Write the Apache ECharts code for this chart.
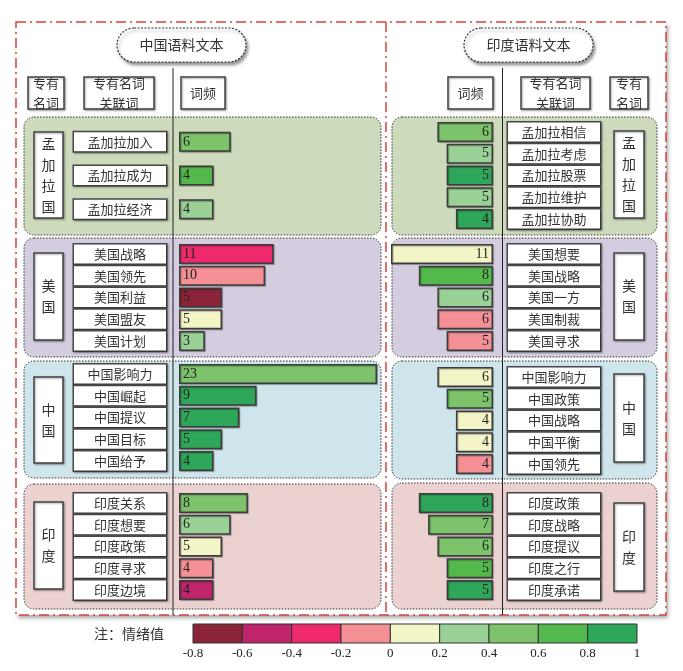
<!DOCTYPE html>
<html>
<head>
<meta charset="utf-8">
<title>中国语料文本 / 印度语料文本 词频</title>
<script src="https://cdn.jsdelivr.net/npm/echarts@6/dist/echarts.min.js"></script>
<style>
    html, body { margin: 0; padding: 0; background: #fff; }
    #chart { width: 683px; height: 671px; }
</style>
</head>
<body>
<div id="chart"></div>
<script>
// Data
// ------------------------------

var groupNames = ['孟加拉国', '美国', '中国', '印度'];

// 中国语料文本
var cnBdWords = ['孟加拉加入', '孟加拉成为', '孟加拉经济'];
var cnBdFreq = [6, 4, 4];
var cnBdMood = [0.5, 0.7, 0.3];
var cnUsWords = ['美国战略', '美国领先', '美国利益', '美国盟友', '美国计划'];
var cnUsFreq = [11, 10, 5, 5, 3];
var cnUsMood = [-0.3, -0.1, -0.7, 0.1, 0.3];
var cnCnWords = ['中国影响力', '中国崛起', '中国提议', '中国目标', '中国给予'];
var cnCnFreq = [23, 9, 7, 5, 4];
var cnCnMood = [0.5, 0.9, 0.9, 0.9, 0.9];
var cnInWords = ['印度关系', '印度想要', '印度政策', '印度寻求', '印度边境'];
var cnInFreq = [8, 6, 5, 4, 4];
var cnInMood = [0.5, 0.3, 0.1, -0.1, -0.5];

// 印度语料文本
var inBdWords = ['孟加拉相信', '孟加拉考虑', '孟加拉股票', '孟加拉维护', '孟加拉协助'];
var inBdFreq = [6, 5, 5, 5, 4];
var inBdMood = [0.5, 0.3, 0.9, 0.3, 0.9];
var inUsWords = ['美国想要', '美国战略', '美国一方', '美国制裁', '美国寻求'];
var inUsFreq = [11, 8, 6, 6, 5];
var inUsMood = [0.1, 0.7, 0.3, -0.1, -0.1];
var inCnWords = ['中国影响力', '中国政策', '中国战略', '中国平衡', '中国领先'];
var inCnFreq = [6, 5, 4, 4, 4];
var inCnMood = [0.1, 0.5, 0.1, 0.1, -0.1];
var inInWords = ['印度政策', '印度战略', '印度提议', '印度之行', '印度承诺'];
var inInFreq = [8, 7, 6, 5, 5];
var inInMood = [0.9, 0.5, 0.5, 0.7, 0.9];

// 情绪值 legend
var moodBreaks = [-0.8, -0.6, -0.4, -0.2, 0, 0.2, 0.4, 0.6, 0.8, 1];
var moodColors = ['#8c2439', '#c0246a', '#ee2a6c', '#f59196', '#f4f5c7', '#9ad196', '#7cc36b', '#53b94c', '#2fa75a'];


// Layout
// ------------------------------

var CJK = '"Noto Sans CJK SC", sans-serif';
var SERIF = '"Liberation Serif", "DejaVu Serif", serif';

var leftSets = [
    {words: cnBdWords, freq: cnBdFreq, mood: cnBdMood, top: 125, height: 101},
    {words: cnUsWords, freq: cnUsFreq, mood: cnUsMood, top: 243, height: 109},
    {words: cnCnWords, freq: cnCnFreq, mood: cnCnMood, top: 363, height: 109},
    {words: cnInWords, freq: cnInFreq, mood: cnInMood, top: 492, height: 109}
];
var rightSets = [
    {words: inBdWords, freq: inBdFreq, mood: inBdMood, top: 121, height: 109},
    {words: inUsWords, freq: inUsFreq, mood: inUsMood, top: 243, height: 109},
    {words: inCnWords, freq: inCnFreq, mood: inCnMood, top: 366, height: 109},
    {words: inInWords, freq: inInFreq, mood: inInMood, top: 492, height: 109}
];

var panelColors = ['#cddabb', '#d4cde0', '#cee5eb', '#ebd1d0'];
var leftPanels = [[117, 118], [238, 119], [361, 117], [484, 125]];
var rightPanels = [[117, 118], [238, 119], [361, 118], [483, 126]];
var leftNameBoxes = [[132, 86], [253, 87], [377, 86], [502, 87]];
var rightNameBoxes = [[131, 87], [253, 87], [374, 88], [503, 88]];

var grids = [], xAxes = [], yAxes = [], series = [];

function labelBox(side) {
    return {
        show: true,
        interval: 0,
        hideOverlap: false,
        margin: side === 'left' ? 13 : 15,
        formatter: function (v) { return '{w|' + v + '}'; },
        rich: {
            w: {width: 90, height: 17, align: 'center', fontFamily: CJK, fontSize: 13, color: '#333'}
        },
        backgroundColor: '#fff',
        borderColor: '#4a4a4a',
        borderWidth: 1.5,
        padding: [1, 1],
        shadowColor: 'rgba(0,0,0,0.35)',
        shadowBlur: 2,
        shadowOffsetX: 1,
        shadowOffsetY: 1
    };
}

function addSide(sets, side) {
    sets.forEach(function (s) {
        var idx = grids.length;
        if (side === 'left') {
            grids.push({left: 179, width: 198, top: s.top, height: s.height});
        } else {
            grids.push({left: 391, width: 102, top: s.top, height: s.height});
        }
        xAxes.push({
            gridIndex: idx, type: 'value', show: false,
            min: 0, max: side === 'left' ? 23 : 11,
            inverse: side === 'right'
        });
        yAxes.push({
            gridIndex: idx, type: 'category', inverse: true, z: 6,
            position: side, data: s.words,
            axisLine: {show: false, onZero: false}, axisTick: {show: false}, splitLine: {show: false},
            axisLabel: labelBox(side)
        });
        series.push({
            type: 'bar', xAxisIndex: idx, yAxisIndex: idx, z: 5,
            barWidth: 20,
            encode: {x: 0, y: 1},
            data: s.freq.map(function (f, j) { return [f, s.words[j], s.mood[j]]; }),
            itemStyle: {
                borderColor: '#3c3c3c', borderWidth: 1.5,
                shadowColor: 'rgba(0,0,0,0.3)', shadowBlur: 1, shadowOffsetX: 1, shadowOffsetY: 1
            },
            label: {
                show: true,
                position: side === 'left' ? 'insideLeft' : 'insideRight',
                distance: 4,
                formatter: function (p) { return p.value[0]; },
                fontFamily: SERIF, fontSize: 14, color: '#222'
            }
        });
    });
}

addSide(leftSets, 'left');
addSide(rightSets, 'right');

// legend grid
var legendGrid = grids.length;
grids.push({left: 193, width: 444, top: 624, height: 19});
xAxes.push({
    gridIndex: legendGrid, type: 'value', min: -0.8, max: 1, interval: 0.2,
    axisLine: {show: false}, axisTick: {show: false}, splitLine: {show: false},
    axisLabel: {fontFamily: SERIF, fontSize: 13, color: '#222', margin: 4}
});
yAxes.push({gridIndex: legendGrid, type: 'value', min: 0, max: 1, show: false});
series.push({
    type: 'custom', xAxisIndex: legendGrid, yAxisIndex: legendGrid, z: 5,
    data: moodColors.map(function (c, i) { return [moodBreaks[i], moodBreaks[i + 1], i]; }),
    renderItem: function (params, api) {
        var a = api.coord([api.value(0), 1]);
        var b = api.coord([api.value(1), 0]);
        return {
            type: 'rect',
            shape: {x: a[0], y: a[1], width: b[0] - a[0], height: b[1] - a[1]},
            style: {fill: moodColors[api.value(2)], stroke: '#333', lineWidth: 1}
        };
    }
});


// Graphic decorations
// ------------------------------

var shadow = {shadowColor: 'rgba(0,0,0,0.35)', shadowBlur: 2, shadowOffsetX: 1, shadowOffsetY: 1};

function rect(x, y, w, h, style, z, r) {
    return {type: 'rect', z: z, silent: true,
        shape: {x: x, y: y, width: w, height: h, r: r || 0},
        style: style};
}
function text(x, y, str, size, z, extra) {
    var st = {x: x, y: y, text: str, fill: '#333', font: size + 'px ' + CJK,
        align: 'center', verticalAlign: 'middle', lineHeight: size + 7};
    if (extra) { for (var k in extra) st[k] = extra[k]; }
    return {type: 'text', z: z, silent: true, style: st};
}
function box(x, y, w, h, str, size, z) {
    return [
        rect(x, y, w, h, Object.assign({fill: '#fff', stroke: '#444', lineWidth: 1.5}, shadow), z),
        text(x + w / 2, y + h / 2, str, size, z + 1)
    ];
}

var graphics = [];

// outer frame
graphics.push(rect(16, 22, 650, 593, {fill: '#fff', shadowColor: 'rgba(0,0,0,0.35)', shadowBlur: 4, shadowOffsetX: 2, shadowOffsetY: 3}, 0));
graphics.push(rect(16, 22, 650, 593, {fill: 'none', stroke: '#d9433f', lineWidth: 1.5, lineDash: [10, 4, 2, 4]}, 1));
graphics.push({type: 'line', z: 1, silent: true, shape: {x1: 386, y1: 22, x2: 386, y2: 615},
    style: {stroke: '#d9433f', lineWidth: 1.5, lineDash: [10, 4, 2, 4]}});

// title pills
[[117, '中国语料文本'], [464, '印度语料文本']].forEach(function (t) {
    graphics.push(rect(t[0], 28, 129, 34, {fill: '#fff', stroke: '#333', lineWidth: 1.2, lineDash: [2, 1.5],
        shadowColor: 'rgba(0,0,0,0.4)', shadowBlur: 3, shadowOffsetX: 2, shadowOffsetY: 3}, 2, 17));
    graphics.push(text(t[0] + 64.5, 45, t[1], 14, 3));
});

// header boxes
graphics = graphics.concat(
    box(28, 77, 36, 32, '专有\n名词', 13, 3),
    box(84, 77, 70, 32, '专有名词\n关联词', 13, 3),
    box(181, 77, 44, 32, '词频', 13, 3),
    box(448, 77, 45, 32, '词频', 13, 3),
    box(521, 77, 69, 32, '专有名词\n关联词', 13, 3),
    box(610, 77, 38, 32, '专有\n名词', 13, 3)
);

// group panels and name boxes
groupNames.forEach(function (name, i) {
    var dotted = {stroke: '#333', lineWidth: 1, lineDash: [1.5, 1.5], fill: panelColors[i]};
    graphics.push(rect(24, leftPanels[i][0], 357, leftPanels[i][1], dotted, 1, 10));
    graphics.push(rect(392, rightPanels[i][0], 265, rightPanels[i][1], dotted, 1, 10));
    var vert = name.split('').join('\n');
    graphics = graphics.concat(
        box(34, leftNameBoxes[i][0], 29, leftNameBoxes[i][1], vert, 14, 3),
        box(614, rightNameBoxes[i][0], 30, rightNameBoxes[i][1], vert, 14, 3)
    );
});

// vertical separators
graphics.push({type: 'line', z: 4, silent: true, shape: {x1: 173, y1: 68, x2: 173, y2: 615},
    style: {stroke: '#222', lineWidth: 1}});
graphics.push({type: 'line', z: 4, silent: true, shape: {x1: 502.5, y1: 68, x2: 502.5, y2: 615},
    style: {stroke: '#222', lineWidth: 1}});

// legend caption
graphics.push(text(129, 634, '注：情绪值', 14, 3));


// Chart
// ------------------------------

var chart = echarts.init(document.getElementById('chart'), null, {renderer: 'canvas'});

chart.setOption({
    animation: false,
    backgroundColor: '#fff',
    graphic: {elements: graphics},
    grid: grids,
    xAxis: xAxes,
    yAxis: yAxes,
    visualMap: {
        type: 'piecewise', show: false, dimension: 2,
        seriesIndex: [0, 1, 2, 3, 4, 5, 6, 7],
        pieces: moodColors.map(function (c, i) {
            return {gte: moodBreaks[i], lt: moodBreaks[i + 1], color: c};
        })
    },
    series: series
});
</script>
</body>
</html>
